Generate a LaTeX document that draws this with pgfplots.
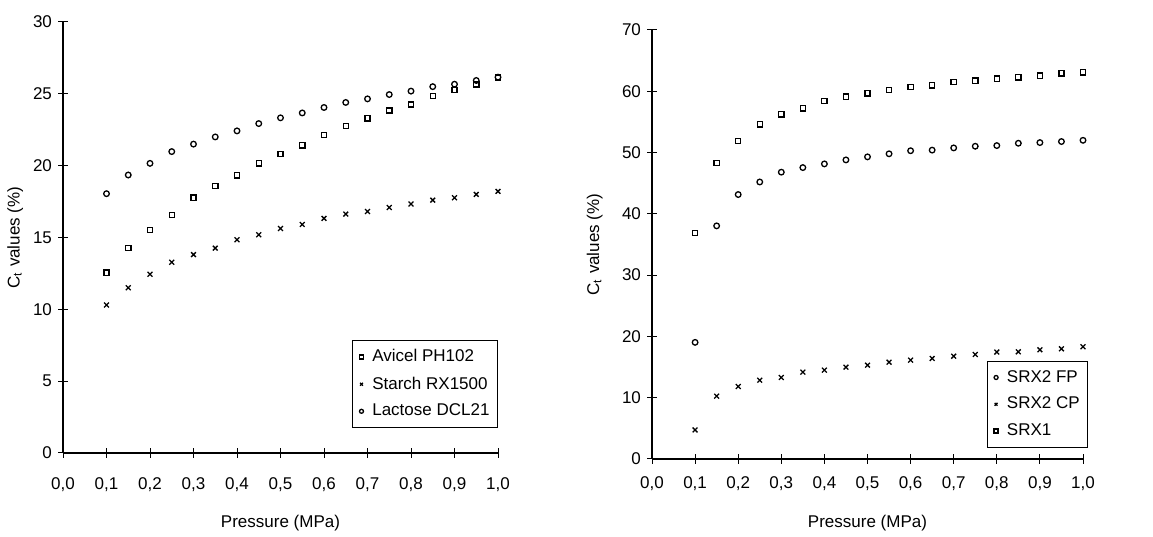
\documentclass[border=0pt]{standalone}
\usepackage{pgfplots}
\pgfplotsset{compat=1.18}
\usepackage{fontspec}
\setmainfont{Liberation Sans}
\begin{document}
\fontsize{8.5}{10}\selectfont
\begin{tikzpicture}
\pgfplotsset{
  myax/.style={
    scale only axis,
    axis x line*=bottom, axis y line*=left,
    xmin=0, xmax=1, 
    xtick={0,0.1,...,1.01},
    /pgf/number format/assume math mode=true,
    /pgf/number format/.cd, fixed, fixed zerofill, precision=1, use comma, /pgfplots/.cd,
    yticklabel style={/pgf/number format/precision=0, /pgf/number format/fixed zerofill=false},
    tick align=center,
    major tick length=5pt,
    tick style={black, line width=0.5pt},
    axis line style={line width=0.6pt},
    ticklabel style={font=\fontsize{8.5}{10}\selectfont},
    label style={font=\fontsize{8.5}{10}\selectfont},
    legend style={font=\fontsize{8.5}{10}\selectfont, draw=black, line width=0.5pt, inner xsep=2pt, inner ysep=2.5pt, row sep=2.2pt, legend cell align=left},
    legend image code/.code={\path[draw=none,fill=none] (0,0) -- (0.2cm,0); \path[draw=none,fill=none] plot[only marks, mark size=1.0pt, mark options={draw=black}] coordinates {(0.08cm,0cm)};},
    every axis plot/.append style={only marks, black, line width=0.65pt},
    xlabel={Pressure (MPa)},
    ylabel={C\textsubscript{t} values (\%)},
  }
}
\path (0,0) rectangle (576.5pt,268pt);
\begin{axis}[myax,
  at={(31.5pt,41.5pt)}, anchor=south west,
  width=217.5pt, height=215.5pt,
  ymin=0, ymax=30, ytick={0,5,...,30},
  xticklabel style={yshift=-7pt},
  xlabel style={at={(axis description cs:0.5,-0.162)},anchor=center},
  ylabel style={at={(axis description cs:-0.11,0.5)},anchor=center},
  legend style={at={(axis description cs:1,0.058)}, anchor=south east},
]
\addplot[mark=square, mark size=1.3pt] coordinates {
(0.10,12.55) (0.15,14.26) (0.20,15.51) (0.25,16.58) (0.30,17.77) (0.35,18.60) (0.40,19.33) (0.45,20.16) (0.50,20.81) (0.55,21.42) (0.60,22.14) (0.65,22.77) (0.70,23.30) (0.75,23.84) (0.80,24.26) (0.85,24.84) (0.90,25.26) (0.95,25.65) (1.00,26.14)};
\addlegendentry{Avicel PH102}
\addplot[mark=x, mark size=1.7pt] coordinates {
(0.10,10.30) (0.15,11.50) (0.20,12.44) (0.25,13.28) (0.30,13.81) (0.35,14.26) (0.40,14.84) (0.45,15.19) (0.50,15.63) (0.55,15.91) (0.60,16.33) (0.65,16.63) (0.70,16.81) (0.75,17.09) (0.80,17.33) (0.85,17.60) (0.90,17.77) (0.95,18.00) (1.00,18.21)};
\addlegendentry{Starch RX1500}
\addplot[mark=o, mark size=1.4pt] coordinates {
(0.10,18.05) (0.15,19.35) (0.20,20.16) (0.25,20.98) (0.30,21.50) (0.35,22.00) (0.40,22.42) (0.45,22.93) (0.50,23.33) (0.55,23.67) (0.60,24.05) (0.65,24.40) (0.70,24.65) (0.75,24.95) (0.80,25.19) (0.85,25.50) (0.90,25.67) (0.95,25.93) (1.00,26.16)};
\addlegendentry{Lactose DCL21}
\end{axis}
\begin{axis}[myax,
  at={(326pt,38.5pt)}, anchor=south west,
  width=215.5pt, height=214.5pt,
  ymin=0, ymax=70, ytick={0,10,...,70},
  xticklabel style={yshift=-3.5pt},
  xlabel style={at={(axis description cs:0.5,-0.149)},anchor=center},
  ylabel style={at={(axis description cs:-0.133,0.5)},anchor=center},
  legend style={at={(axis description cs:1.012,0.026)}, anchor=south east},
]
\addplot[mark=o, mark size=1.4pt] coordinates {
(0.10,19.03) (0.15,38.04) (0.20,43.15) (0.25,45.20) (0.30,46.80) (0.35,47.55) (0.40,48.15) (0.45,48.80) (0.50,49.30) (0.55,49.80) (0.60,50.30) (0.65,50.40) (0.70,50.76) (0.75,51.03) (0.80,51.14) (0.85,51.52) (0.90,51.63) (0.95,51.80) (1.00,52.00)};
\addlegendentry{SRX2 FP}
\addplot[mark=x, mark size=1.7pt] coordinates {
(0.10,4.74) (0.15,10.25) (0.20,11.83) (0.25,12.86) (0.30,13.30) (0.35,14.17) (0.40,14.50) (0.45,14.99) (0.50,15.31) (0.55,15.80) (0.60,16.13) (0.65,16.40) (0.70,16.78) (0.75,17.06) (0.80,17.44) (0.85,17.49) (0.90,17.82) (0.95,17.98) (1.00,18.31)};
\addlegendentry{SRX2 CP}
\addplot[mark=square, mark size=1.3pt] coordinates {
(0.10,36.85) (0.15,48.26) (0.20,51.85) (0.25,54.62) (0.30,56.25) (0.35,57.23) (0.40,58.42) (0.45,59.13) (0.50,59.67) (0.55,60.22) (0.60,60.71) (0.65,60.98) (0.70,61.52) (0.75,61.74) (0.80,62.07) (0.85,62.28) (0.90,62.55) (0.95,62.93) (1.00,63.10)};
\addlegendentry{SRX1}
\end{axis}
\end{tikzpicture}
\end{document}
